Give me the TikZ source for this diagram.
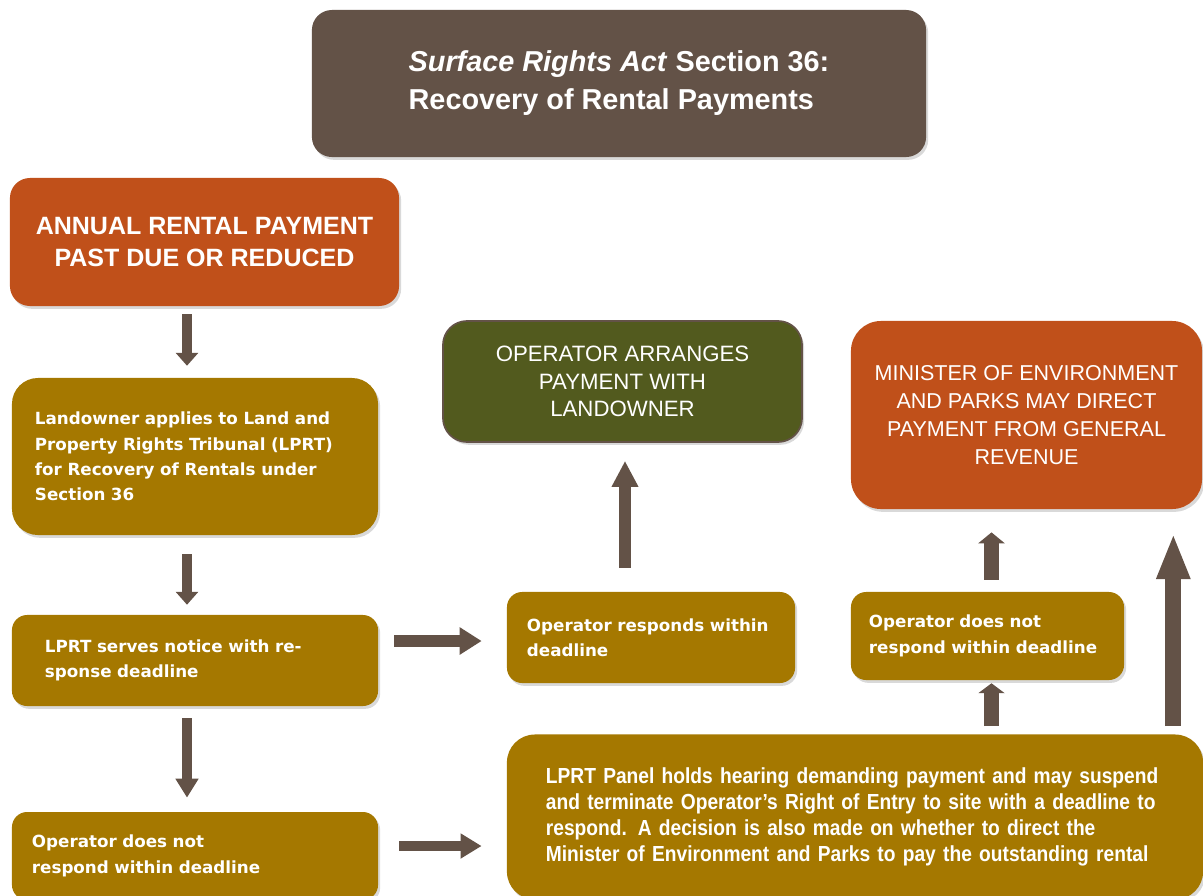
\documentclass[tikz,border=0pt]{standalone}
\usepackage{fontspec}
\setmainfont{Liberation Sans}
\newfontfamily\boxfont{DejaVu Sans}
\newfontfamily\panelfont[FakeStretch=0.88]{Liberation Sans}
\usetikzlibrary{arrows.meta,shadows}
\definecolor{titlebrown}{RGB}{99,82,71}
\definecolor{rustorange}{RGB}{192,80,26}
\definecolor{ochre}{RGB}{165,120,0}
\definecolor{olivegreen}{RGB}{82,90,30}
\begin{document}
\begin{tikzpicture}[x=0.025cm,y=-0.025cm,
		box/.style={rounded corners=0.5cm, text=white, inner sep=0pt,
			drop shadow={shadow xshift=1.5pt, shadow yshift=-2pt, opacity=0.3}},
		stepbox/.style={box, fill=ochre, align=left,
			font=\boxfont\bfseries\fontsize{11.9}{18}\selectfont},
		blockarrow/.style n args={3}{draw=titlebrown, line cap=butt, line width=#1,
			-{Triangle[width=#2,length=#3]}}]

	\clip (0,0) rectangle (1203,895);

	% Titel
	\node[box, fill=titlebrown, minimum width=15.35cm, minimum height=3.675cm, align=left,
		font=\bfseries\fontsize{20.5}{27}\selectfont] (title) at (619,83.5)
		{\textit{Surface Rights Act} Section 36:\\Recovery of Rental Payments};

	% linke Spalte
	\node[box, fill=rustorange, minimum width=9.725cm, minimum height=3.2cm, align=center,
		font=\bfseries\fontsize{17.8}{22.8}\selectfont] (annual) at (204.5,242)
		{ANNUAL RENTAL PAYMENT\\PAST DUE OR REDUCED};
	\node[stepbox, rounded corners=0.65cm, minimum width=9.15cm, minimum height=3.925cm,
		text width=8cm] (landowner) at (195,456.5)
		{Landowner applies to Land and\\Property Rights Tribunal (LPRT)\\for Recovery of Rentals under\\Section 36};
	\node[stepbox, rounded corners=0.38cm, minimum width=9.15cm, minimum height=2.275cm,
		text width=7.5cm] (serves) at (195,660.5)
		{LPRT serves notice with re-\\sponse deadline};
	\node[stepbox, rounded corners=0.38cm, minimum width=9.15cm, minimum height=2.2cm,
		text width=8.15cm] (nodeadline) at (195,856)
		{Operator does not\\respond within deadline};

	% Mitte
	\node[box, fill=olivegreen, draw=titlebrown, line width=1.2pt, rounded corners=0.6cm,
		minimum width=8.975cm, minimum height=3.025cm, align=center,
		font=\fontsize{15.8}{19.6}\selectfont] (arranges) at (622.5,381.5)
		{OPERATOR ARRANGES\\PAYMENT WITH\\LANDOWNER};
	\node[stepbox, rounded corners=0.38cm, minimum width=7.2cm, minimum height=2.275cm,
		text width=6.2cm] (responds) at (651,637.5)
		{Operator responds within\\deadline};

	% rechte Spalte
	\node[box, fill=rustorange, rounded corners=0.75cm, minimum width=8.775cm, minimum height=4.7cm,
		align=center, font=\fontsize{15.3}{20}\selectfont] (minister) at (1026.5,415)
		{MINISTER OF ENVIRONMENT\\AND PARKS MAY DIRECT\\PAYMENT FROM GENERAL\\REVENUE};
	\node[stepbox, rounded corners=0.38cm, minimum width=6.825cm, minimum height=2.2cm,
		text width=5.925cm] (nodeadline2) at (987.5,636)
		{Operator does not\\respond within deadline};
	\node[box, fill=ochre, rounded corners=0.7cm, minimum width=17.4cm, minimum height=4.125cm,
		text width=15.45cm, align=left,
		font=\panelfont\bfseries\fontsize{15.5}{18.5}\selectfont] (panel) at (855,817)
		{\hyphenpenalty=10000 LPRT Panel holds hearing demanding payment and may suspend\\and terminate Operator’s Right of Entry to site with a deadline to\\respond. A decision is also made on whether to direct the\\Minister of Environment and Parks to pay the outstanding rental};

	% Pfeile
	\draw[blockarrow={7.8pt}{15.6pt}{9.2pt}, shorten <=5.7pt, shorten >=8.5pt]
		([xshift=-0.2cm]landowner.north |- annual.south) -- ([xshift=-0.2cm]landowner.north);
	\draw[blockarrow={7.8pt}{15.6pt}{9.2pt}, shorten <=13.5pt, shorten >=7.1pt]
		([xshift=-0.2cm]landowner.south) -- ([xshift=-0.2cm]serves.north);
	\draw[blockarrow={7.8pt}{15.6pt}{13.5pt}, shorten <=8.5pt, shorten >=10pt]
		([xshift=-0.2cm]serves.south) -- ([xshift=-0.2cm]nodeadline.north);
	\draw[blockarrow={9.2pt}{18.5pt}{15.6pt}, shorten <=11.4pt, shorten >=17.8pt]
		([yshift=-0.0875cm]serves.east |- responds.west) -- ([yshift=-0.0875cm]responds.west);
	\draw[blockarrow={7.8pt}{17pt}{15pt}, shorten <=15pt, shorten >=17.8pt]
		([yshift=0.25cm]nodeadline.east) -- ([yshift=0.25cm]nodeadline.east -| panel.west);
	\draw[blockarrow={9.2pt}{17.8pt}{18.5pt}, shorten <=17pt, shorten >=12.8pt]
		([xshift=0.0625cm]arranges.south |- responds.north) -- ([xshift=0.0625cm]arranges.south);
	\draw[blockarrow={10pt}{18.5pt}{7.8pt}, shorten <=8.5pt, shorten >=16.4pt]
		([xshift=0.1cm]nodeadline2.north) -- ([xshift=0.1cm]nodeadline2.north |- minister.south);
	\draw[blockarrow={10pt}{18.5pt}{7.1pt}, shorten <=5.7pt, shorten >=2.1pt]
		([xshift=0.1cm]nodeadline2.south |- panel.north) -- ([xshift=0.1cm]nodeadline2.south);
	\draw[blockarrow={11.4pt}{22pt}{32.7pt}, shorten <=5.7pt, shorten >=17pt]
		([xshift=-0.725cm]minister.south east |- panel.north) -- ([xshift=-0.725cm]minister.south east);

\end{tikzpicture}
\end{document}
